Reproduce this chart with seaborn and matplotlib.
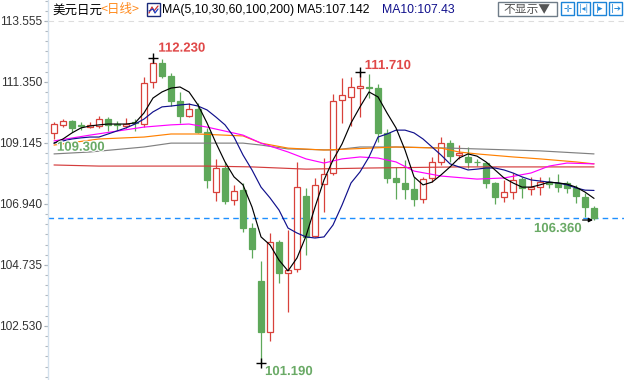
import numpy as np
import pandas as pd
import matplotlib
matplotlib.use('Agg')
import matplotlib.pyplot as plt
import matplotlib.patheffects as pe
import seaborn as sns
from matplotlib.patches import Rectangle
from matplotlib.lines import Line2D
from matplotlib.ticker import FixedLocator, MultipleLocator

# daily USD/JPY candles
opens = [109.51, 109.79, 109.94, 109.80, 109.72, 109.76, 110.01, 109.82, 109.76, 109.89,
         109.83, 111.35, 112.04, 111.57, 110.66, 110.12, 110.37, 109.54, 107.37, 108.24,
         107.08, 107.44, 106.07, 104.15, 102.31, 105.57, 104.44, 104.59, 107.23, 105.78,
         107.66, 108.06, 110.70, 110.81, 111.12, 111.18, 111.13, 109.51, 107.88, 107.70,
         107.48, 107.12, 107.88, 108.46, 109.14, 108.71, 108.64, 108.47, 108.42, 107.70,
         107.19, 107.37, 107.84, 107.48, 107.55, 107.73, 107.70, 107.70, 107.52, 107.19,
         106.79]
highs = [109.90, 110.01, 109.98, 109.92, 109.90, 110.12, 110.08, 109.94, 110.05, 110.01,
         111.53, 112.23, 112.18, 111.67, 110.99, 110.59, 110.59, 109.69, 108.56, 108.45,
         107.63, 107.70, 106.25, 104.88, 105.89, 105.64, 106.00, 108.45, 107.52, 107.88,
         108.60, 110.92, 111.50, 111.53, 111.71, 111.64, 111.28, 109.65, 108.28, 108.53,
         107.92, 107.92, 108.64, 109.36, 109.25, 109.07, 109.00, 108.55, 108.46, 107.73,
         107.81, 108.06, 107.92, 107.92, 107.92, 107.92, 108.02, 107.77, 107.63, 107.34,
         106.87]
lows = [109.30, 109.72, 109.54, 109.62, 109.69, 109.69, 109.58, 109.61, 109.69, 109.58,
        109.72, 111.13, 111.50, 110.48, 109.87, 110.08, 109.51, 107.52, 107.05, 106.94,
        106.90, 105.93, 104.99, 101.19, 101.99, 104.08, 103.03, 104.48, 105.09, 105.75,
        106.65, 107.99, 109.87, 109.76, 110.08, 110.77, 109.18, 107.70, 107.12, 107.12,
        106.87, 106.97, 107.73, 108.35, 108.46, 108.57, 108.24, 108.33, 107.52, 106.94,
        107.01, 107.12, 107.16, 107.26, 107.26, 107.52, 107.37, 107.34, 106.97, 106.47,
        106.36]
closes = [109.83, 109.94, 109.69, 109.76, 109.80, 110.01, 109.80, 109.78, 109.83, 109.85,
          111.31, 112.04, 111.57, 110.66, 110.12, 110.37, 109.54, 107.81, 108.24, 107.05,
          107.41, 106.07, 105.31, 102.31, 105.57, 104.44, 104.55, 107.55, 105.75, 107.63,
          108.02, 110.66, 110.88, 111.17, 111.20, 111.14, 109.51, 107.88, 107.73, 107.48,
          107.12, 107.84, 108.46, 109.14, 108.67, 108.78, 108.46, 108.44, 107.70, 107.19,
          107.37, 107.81, 107.52, 107.55, 107.73, 107.66, 107.55, 107.52, 107.23, 106.83,
          106.43]

# moving averages as drawn on the chart
ma5 = [109.14, 109.29, 109.51, 109.69, 109.76, 109.80, 109.83, 109.83, 109.83, 109.87,
       110.23, 110.77, 110.99, 111.13, 111.17, 110.99, 110.52, 109.87, 109.14, 108.46,
       107.92, 107.63, 106.83, 105.75, 105.46, 104.91, 104.52, 104.99, 105.78, 106.83,
       107.81, 108.53, 109.11, 109.87, 110.45, 110.99, 110.81, 110.23, 109.69, 108.89,
       107.92, 107.63, 107.73, 107.99, 108.28, 108.60, 108.75, 108.67, 108.46, 108.17,
       107.88, 107.70, 107.55, 107.55, 107.63, 107.73, 107.70, 107.66, 107.55, 107.37,
       107.142]
ma10 = [109.14, 109.22, 109.29, 109.33, 109.36, 109.36, 109.47, 109.58, 109.69, 109.83,
        110.01, 110.27, 110.45, 110.48, 110.52, 110.55, 110.48, 110.34, 110.08, 109.80,
        109.36, 108.71, 108.17, 107.55, 107.16, 106.72, 106.07, 105.89, 105.75, 105.71,
        105.75, 106.18, 106.90, 107.70, 108.10, 108.64, 109.36, 109.47, 109.61, 109.61,
        109.51, 109.29, 109.00, 108.71, 108.39, 108.28, 108.17, 108.20, 108.24, 108.24,
        108.17, 108.06, 107.92, 107.81, 107.77, 107.73, 107.70, 107.63, 107.52, 107.44,
        107.43]
ma30_day = [0, 4, 10, 13, 15, 17, 21, 23, 26, 28, 30, 32, 34, 36, 38, 40, 43, 47, 50, 53, 55, 57, 60]
ma30 = [109.22, 109.43, 109.72, 109.80, 109.83, 109.72, 109.43, 109.14, 108.82, 108.57, 108.42, 108.57,
        108.64, 108.60, 108.46, 108.13, 107.95, 107.84, 107.88, 108.06, 108.31, 108.42, 108.39]
ma60_day = [0, 5, 10, 13, 16, 21, 23, 26, 30, 33, 38, 43, 45, 47, 51, 54, 58, 60]
ma60 = [109.07, 109.29, 109.36, 109.47, 109.47, 109.40, 109.14, 108.96, 108.89, 108.93, 109.00, 108.96,
        108.82, 108.75, 108.64, 108.57, 108.46, 108.39]
ma100_day = [0, 4, 10, 13, 21, 23, 26, 31, 34, 38, 44, 51, 54, 60]
ma100 = [108.75, 108.82, 109.00, 109.14, 109.14, 109.07, 108.93, 108.89, 109.00, 109.00, 108.96, 108.89,
         108.86, 108.75]
ma200_day = [0, 5, 17, 22, 28, 35, 45, 60]
ma200 = [108.35, 108.31, 108.31, 108.28, 108.20, 108.24, 108.28, 108.28]

y_ticks = [113.555, 111.350, 109.145, 106.940, 104.735, 102.530]

RED = '#d8413b'
GREEN = '#5ea85a'
LABEL_RED = '#e04848'
LABEL_GREEN = '#6aaa66'

sns.set_style('white')
plt.rcParams['font.family'] = ['Liberation Sans', 'Noto Sans CJK SC', 'DejaVu Sans']

W, H = 624, 380
fig = plt.figure(figsize=(W / 100, H / 100), dpi=100)
ax = fig.add_axes([48 / W, 0, (W - 48) / W, 1])

df = pd.DataFrame({'open': opens, 'high': highs, 'low': lows, 'close': closes})
df['day'] = np.arange(len(df))
up = df[df['close'] >= df['open']]
down = df[df['close'] < df['open']]

# wicks, then bodies (hollow red for up days, filled green for down days)
ax.vlines(up['day'], up['low'], up['high'], color=RED, lw=0.9, zorder=2)
ax.vlines(down['day'], down['low'], down['high'], color=GREEN, lw=0.9, zorder=2)
ax.bar(up['day'], up['close'] - up['open'], bottom=up['open'], width=0.62,
       facecolor='white', edgecolor=RED, linewidth=0.9, zorder=3)
ax.bar(down['day'], down['close'] - down['open'], bottom=down['open'], width=0.62,
       facecolor=GREEN, edgecolor=GREEN, linewidth=0.9, zorder=3)

days = df['day']
lines = [
    (ma200_day, ma200, '#d43c3c'),
    (ma100_day, ma100, '#808080'),
    (ma60_day, ma60, '#ff8000'),
    (ma30_day, ma30, '#ff00ff'),
    (days, ma10, '#10108c'),
    (days, ma5, '#000000'),
]
for xs, ys, col in lines:
    sns.lineplot(x=list(xs), y=ys, ax=ax, color=col, linewidth=0.85,
                 estimator=None, sort=False, zorder=4)

# last price line and top grid line
ax.axhline(closes[-1], color='#1e8fff', lw=1.0, dashes=(4, 3), zorder=1)
ax.axhline(y_ticks[0], color='#dddddd', lw=0.8, dashes=(5, 4), zorder=1)

# extreme markers and labels
hi1, hi2, lo1 = 11, 34, 23
ax.plot([hi1, hi2], [highs[hi1], highs[hi2]], '+', color='black', ms=7, mew=1, zorder=5)
ax.plot([lo1], [lows[lo1]], '+', color='black', ms=7, mew=1, zorder=5)
halo = [pe.withStroke(linewidth=1.5, foreground='white')]
lab = dict(textcoords='offset pixels', ha='center', va='center', fontsize=9.5,
           fontweight='bold', path_effects=halo, zorder=6)
ax.annotate(f'{highs[hi1]:.3f}', (hi1, highs[hi1]), xytext=(29, 9), color=LABEL_RED, **lab)
ax.annotate(f'{highs[hi2]:.3f}', (hi2, highs[hi2]), xytext=(28, 6), color=LABEL_RED, **lab)
ax.annotate(f'{lows[lo1]:.3f}', (lo1, lows[lo1]), xytext=(28, -9), color=LABEL_GREEN, **lab)
ax.annotate(f'{lows[0]:.3f}', (0, lows[0]), xytext=(27, -9), color=LABEL_GREEN, **lab)
last = len(df) - 1
ax.annotate(f'{lows[last]:.3f}', (last, lows[last]), xytext=(-36, -9), color=LABEL_GREEN, **lab)
ax.annotate('', (last + 0.2, lows[last]), xytext=(-16, 0), textcoords='offset pixels',
            arrowprops=dict(arrowstyle='-|>', color='black', lw=0.9, mutation_scale=6), zorder=5)

ax.set_xlim(-0.667, 63.33)
ax.set_ylim(100.577, 114.314)
ax.set_xticks([])
ax.yaxis.set_major_locator(FixedLocator(y_ticks))
ax.set_yticklabels([f'{v:.3f}' for v in y_ticks])
ax.yaxis.set_minor_locator(MultipleLocator(2.205 / 6))
ax.tick_params(axis='y', which='major', direction='out', length=3, width=0.8,
               color='#9aa5b0', labelsize=8.6, labelcolor='#333333', pad=1)
ax.tick_params(axis='y', which='minor', direction='out', length=2, width=0.8, color='#b0b8c0')
ax.tick_params(axis='y', left=True, which='both')
for side in ['top', 'right', 'bottom']:
    ax.spines[side].set_visible(False)
ax.spines['left'].set_color('#d2e0ec')
ax.spines['left'].set_linewidth(1)


def fx(x):
    return x / W


def fy(y):
    return 1 - y / H


# header
fig.text(fx(52), fy(10), '美元日元', fontsize=9, color='black', va='center',
         family=['Noto Sans CJK SC', 'DejaVu Sans'])
fig.text(fx(100), fy(10), '<日线>', fontsize=9, color='#ff8a1c', va='center',
         family=['Noto Sans CJK SC', 'DejaVu Sans'])
fig.patches.append(Rectangle((fx(147), fy(16)), 13 / W, 13 / H, transform=fig.transFigure,
                             facecolor='white', edgecolor='#1a2a7a', lw=1))
fig.lines.append(Line2D([fx(149), fx(152), fx(154), fx(158)], [fy(13), fy(7), fy(11), fy(6)],
                        transform=fig.transFigure, color='#d03030', lw=0.9))
fig.lines.append(Line2D([fx(149), fx(153), fx(155), fx(158)], [fy(11), fy(9), fy(13), fy(9)],
                        transform=fig.transFigure, color='#2040c0', lw=0.9))
fig.text(fx(162), fy(10), 'MA(5,10,30,60,100,200)', fontsize=8.8, color='black', va='center')
fig.text(fx(297), fy(10), f'MA5:{ma5[-1]:.3f}', fontsize=8.8, color='black', va='center')
fig.text(fx(382), fy(10), f'MA10:{ma10[-1]:.2f}', fontsize=8.8, color='#10108c', va='center')

# right-hand buttons
fig.patches.append(Rectangle((fx(498), fy(16)), 59 / W, 14 / H, transform=fig.transFigure,
                             facecolor='white', edgecolor='#6f7c88', lw=1))
fig.text(fx(527), fy(9.5), '不显示▼', fontsize=8.5, color='#555555', ha='center', va='center',
         family=['Noto Sans CJK SC', 'DejaVu Sans'])
BLUE = '#1c84d8'
for x0 in [561, 577, 593, 609]:
    fig.patches.append(Rectangle((fx(x0), fy(15)), 13 / W, 13 / H, transform=fig.transFigure,
                                 facecolor='white', edgecolor=BLUE, lw=1))
fig.text(fx(567.5), fy(8.5), '✛', fontsize=7, color=BLUE, ha='center', va='center',
         family=['DejaVu Sans'])
fig.text(fx(583.5), fy(8.5), '|◂|', fontsize=5.5, color=BLUE, ha='center', va='center',
         family=['DejaVu Sans'])
fig.text(fx(599.5), fy(8.5), '|▸', fontsize=6.5, color=BLUE, ha='center', va='center',
         family=['DejaVu Sans'])
fig.text(fx(615.5), fy(8.5), '|➔', fontsize=6, color=BLUE, ha='center', va='center',
         family=['DejaVu Sans'])

fig.savefig('out.png', dpi=100)
